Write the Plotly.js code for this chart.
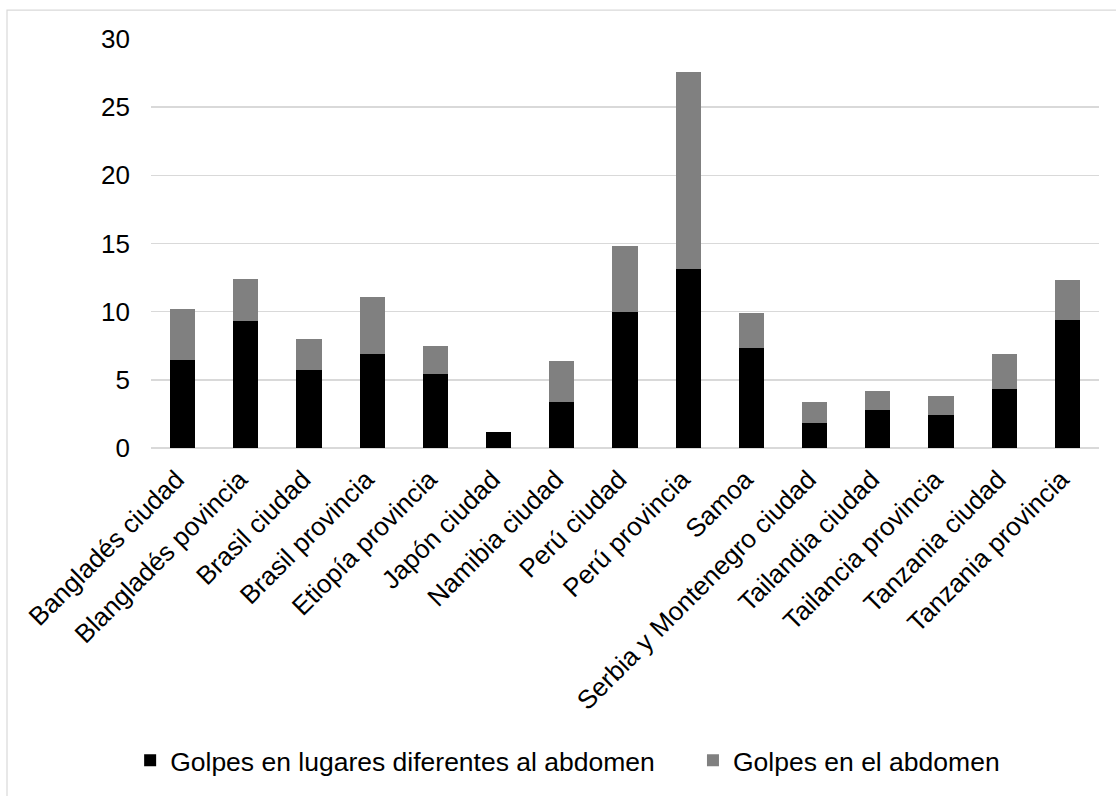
<!DOCTYPE html>
<html>
<head>
<meta charset="utf-8">
<script src="https://cdn.plot.ly/plotly-3.0.1.min.js"></script>
<style>
html,body{margin:0;padding:0;background:#fff;}
#chart{width:1116px;height:796px;}
</style>
</head>
<body>
<div id="chart"></div>
<script>
const categories = [
  "Bangladés ciudad", "Blangladés povincia", "Brasil ciudad", "Brasil provincia",
  "Etiopía provincia", "Japón ciudad", "Namibia ciudad", "Perú ciudad",
  "Perú provincia", "Samoa", "Serbia y Montenegro ciudad", "Tailandia ciudad",
  "Tailancia provincia", "Tanzania ciudad", "Tanzania provincia"
];
const golpesOtrosLugares = [6.45, 9.3, 5.7, 6.9, 5.4, 1.2, 3.4, 10.0, 13.1, 7.3, 1.85, 2.8, 2.4, 4.3, 9.4];
const golpesAbdomen      = [3.75, 3.1, 2.3, 4.2, 2.1, 0.0, 3.0, 4.8, 14.5, 2.6, 1.55, 1.4, 1.4, 2.6, 2.9];
const seriesNames = ["Golpes en lugares diferentes al abdomen", "Golpes en el abdomen"];
const yTicks = [0, 5, 10, 15, 20, 25, 30];

const FONT = "Liberation Sans, Arial, sans-serif";

const traces = [
  {
    type: "bar", name: seriesNames[0], x: categories, y: golpesOtrosLugares,
    marker: {color: "#000000", line: {width: 0}}, legend: "legend",
    hoverinfo: "x+y"
  },
  {
    type: "bar", name: seriesNames[1], x: categories, y: golpesAbdomen,
    marker: {color: "#808080", line: {width: 0}}, legend: "legend2",
    hoverinfo: "x+y"
  }
];

const layout = {
  width: 1116, height: 796,
  margin: {l: 151, r: 17, t: 39, b: 346},
  paper_bgcolor: "#ffffff", plot_bgcolor: "#ffffff",
  barmode: "stack",
  bargap: 0.6,
  font: {family: FONT, size: 26, color: "#000000"},
  xaxis: {
    type: "category",
    tickangle: -45,
    showgrid: false,
    showline: false,
    zeroline: false,
    ticks: "",
    ticklabelstandoff: 10,
    ticklabelshift: -6,
    tickfont: {family: FONT, size: 26, color: "#000000"},
    automargin: false
  },
  yaxis: {
    range: [0, 30],
    tickvals: yTicks,
    ticktext: yTicks.map(String),
    showgrid: true,
    gridcolor: "#d9d9d9",
    gridwidth: 1.5,
    zeroline: true,
    zerolinecolor: "#d9d9d9",
    zerolinewidth: 1.5,
    showline: false,
    ticks: "",
    ticklabelstandoff: 20,
    tickfont: {family: FONT, size: 26, color: "#000000"},
    automargin: false
  },
  showlegend: true,
  legend: {
    orientation: "h", x: -0.022, xanchor: "left", y: -0.764, yanchor: "middle",
    font: {family: FONT, size: 26.5, color: "#000000"}, bgcolor: "rgba(0,0,0,0)"
  },
  legend2: {
    orientation: "h", x: 0.5717, xanchor: "left", y: -0.764, yanchor: "middle",
    font: {family: FONT, size: 26.5, color: "#000000"}, bgcolor: "rgba(0,0,0,0)"
  },
  shapes: [{
    type: "rect", xref: "paper", yref: "paper",
    x0: -0.1519, x1: 1.03, y0: -0.86, y1: 1.0706,
    line: {color: "#d9d9d9", width: 1.2}, fillcolor: "rgba(0,0,0,0)", layer: "below"
  }]
};

Plotly.newPlot("chart", traces, layout, {displayModeBar: false, staticPlot: true});
</script>
</body>
</html>
